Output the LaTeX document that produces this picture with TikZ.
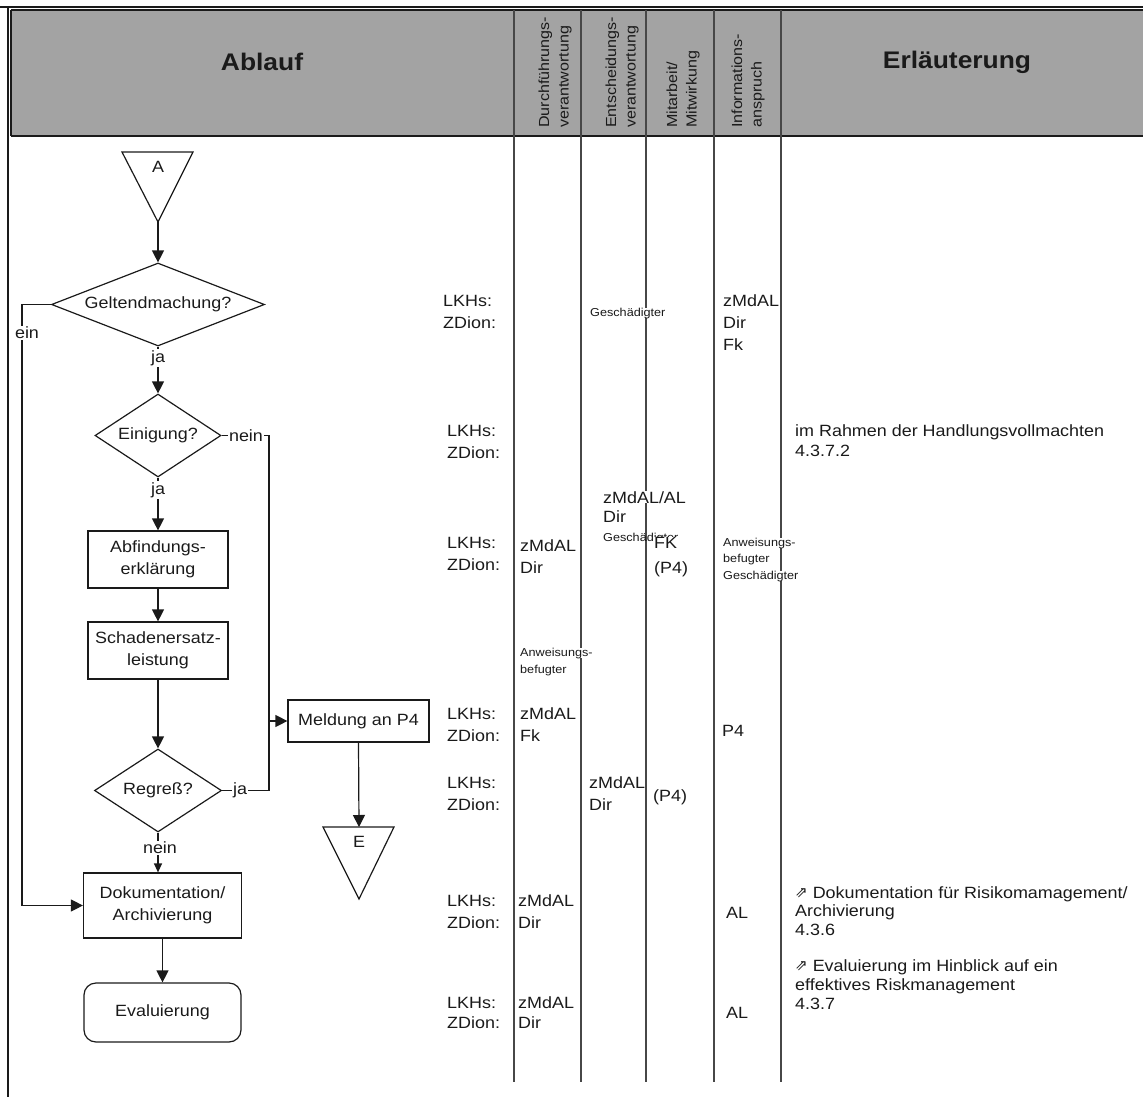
\documentclass[tikz,border=0pt]{standalone}
\usepackage{fontspec}
\setmainfont{Liberation Sans}[FakeStretch=1.1]
\newfontfamily\symfont{DejaVu Sans}
\usetikzlibrary{shapes.geometric,arrows.meta}
\definecolor{hdr}{HTML}{A3A3A3}
\definecolor{ink}{HTML}{1A1A1A}
\newcommand{\fsn}{\fontsize{16.3}{22}\selectfont}
\newcommand{\fss}{\fontsize{11.5}{16.5}\selectfont}
\newcommand{\fsh}{\fontsize{24}{28}\selectfont\bfseries}
\newcommand{\fsv}{\fontsize{14.6}{19.5}\selectfont}
\newcommand{\fse}{\fontsize{16.3}{18.5}\selectfont}
\newcommand{\arrsym}{\raisebox{1pt}{\symfont\fontsize{15}{15}\selectfont ⇗}}
\begin{document}
\begin{tikzpicture}[x=1pt,y=-1pt,
  fl/.style={line width=1.2pt, draw=ink},
  arr/.style={fl, -{Triangle[length=12pt,width=12pt]}},
  arrs/.style={fl, -{Triangle[length=9pt,width=8pt]}},
  dia/.style={diamond, fl, font=\fsn, inner sep=1pt, text=ink},
  box/.style={rectangle, fl, font=\fsn, align=center, inner sep=2pt, text=ink},
  lbl/.style={fill=white, inner sep=1pt, font=\fsn, text=ink},
  txt/.style={inner sep=0pt, anchor=base west, align=left, font=\fsn, text=ink},
  sm/.style={txt, font=\fss},
  wh/.style={fill=white},
  col/.style={line width=1.3pt, draw=black!72},
  vt/.style={rotate=90, anchor=west, align=left, font=\fsv, inner sep=0pt, text=ink},
  hd/.style={font=\fsh, text=ink, inner sep=0pt},
  erl/.style={txt, font=\fse}]
\useasboundingbox (0,0) rectangle (1143,1097);

% ---------- header ----------
\fill[hdr] (11,10) rectangle (1143,136);
\draw[line width=1.5pt, draw=ink] (11,136) -- (1143,136);
\draw[line width=1.2pt, draw=ink] (11,10) -- (1143,10);
\draw[line width=1.2pt, draw=ink] (11,10) -- (11,136);
\draw[line width=1.2pt, draw=ink] (0,7) -- (1143,7);
\draw[line width=1.5pt, draw=ink] (8,7) -- (8,1097);
\foreach \x in {514,581,646,714,781} \draw[col] (\x,10) -- (\x,1082);

\node[hd] (hAblauf) at (262,62) {Ablauf};
\node[hd] (hErl) at (957,62) {Erläuterung};
\node[vt] (hD) at (555,128) {Durchführungs-\\verantwortung};
\node[vt] (hE) at (622,128) {Entscheidungs-\\verantwortung};
\node[vt] (hM) at (683,128) {Mitarbeit/\\Mitwirkung};
\node[vt] (hI) at (748,128) {Informations-\\anspruch};

% ---------- flowchart ----------
\draw[fl] (122,152) -- (193,152) -- (158,222) -- cycle;
\coordinate (Aap) at (158,222);
\node[font=\fsn, text=ink, inner sep=0pt] (tA) at (158,167) {A};

\node[dia, aspect=2.57, minimum width=213pt, minimum height=83pt] (geld) at (158,304.5) {Geltendmachung?};
\node[dia, aspect=1.52, minimum width=126pt, minimum height=83pt] (einig) at (158,435.5) {Einigung?};
\node[box, minimum width=140pt, minimum height=57pt] (abf) at (158,559.5) {Abfindungs-\\erklärung};
\node[box, minimum width=140pt, minimum height=57pt] (schad) at (158,650.5) {Schadenersatz-\\leistung};
\node[dia, aspect=1.53, minimum width=127pt, minimum height=83pt] (regress) at (158,790.5) {Regreß?};
\node[box, minimum width=141pt, minimum height=42pt] (meld) at (358.5,721) {Meldung an P4};
\node[box, minimum width=158pt, minimum height=65pt] (doku) at (162.5,905.5) {Dokumentation/\\Archivierung};
\node[box, rounded corners=12pt, minimum width=157pt, minimum height=59pt] (eval) at (162.5,1012.5) {Evaluierung};

\draw[fl] (323,827) -- (394,827) -- (359,899) -- cycle;
\coordinate (Etop) at (359,827);
\node[font=\fsn, text=ink, inner sep=0pt] (tE) at (359,842) {E};

\coordinate (c1) at (22,304.5);
\coordinate (c2) at (22,905.5);
\coordinate (n1) at (269,435.5);
\coordinate (n2) at (269,721);
\coordinate (r1) at (269,790.5);

\draw[arr] (Aap) -- (geld.north);
\draw[arr] (geld.south) -- (einig.north);
\draw[arr] (einig.south) -- (abf.north);
\draw[arr] (abf.south) -- (schad.north);
\draw[arr] (schad.south) -- (regress.north);
\draw[arrs] (regress.south) -- (regress.south |- doku.north);
\draw[arr] (doku.south) -- (eval.north);
\draw[arr] (geld.west) -- (c1) -- (c2) -- (doku.west);
\draw[arr] (einig.east) -- (n1) -- (n2) -- (meld.west);
\draw[fl] (regress.east) -- (r1) -- (n2);
\draw[arr] (meld.south) -- (Etop);

\node[lbl] (lja1) at (158,358) {ja};
\node[lbl] (lja2) at (158,490) {ja};
\node[lbl] (lein) at (27,333) {ein};
\node[lbl] (lnein1) at (246,435.5) {nein};
\node[lbl] (lja3) at (240,790.5) {ja};
\node[lbl] (lnein2) at (160,848) {nein};

% ---------- responsibilities (base = last line) ----------
% row 1
\node[txt] (r1l) at (443,328) {LKHs:\\ZDion:};
\node[sm,wh] (r1e) at (590,316) {Geschädigter};
\node[txt] (r1i) at (723,350) {zMdAL\\Dir\\Fk};
% row 2
\node[txt] (r2l) at (447,458) {LKHs:\\ZDion:};
\node[erl] (r2x) at (795,456) {im Rahmen der Handlungsvollmachten\\[1.5pt]4.3.7.2};
% row 3
\node[txt] (r3l) at (447,570) {LKHs:\\ZDion:};
\node[txt] (r3d) at (520,573) {zMdAL\\Dir};
\node[txt,wh] (r3e1) at (603,503) {zMdAL/AL};
\node[txt] (r3e2) at (603,522) {Dir};
\node[sm] (r3g) at (603,541) {Geschädigter};
\node[txt,wh] (r3f) at (654,548) {FK};
\node[txt] (r3p) at (654,573) {(P4)};
\node[sm,wh] (r3i1) at (723,546) {Anweisungs-};
\node[sm] (r3i2) at (723,562.5) {befugter};
\node[sm,wh] (r3i3) at (723,579) {Geschädigter};
% row 4
\node[sm,wh] (r4a) at (520,656) {Anweisungs-};
\node[sm] (r4b) at (520,673) {befugter};
% row 5
\node[txt] (r5l) at (447,741) {LKHs:\\ZDion:};
\node[txt] (r5d) at (520,741) {zMdAL\\Fk};
\node[txt] (r5i) at (722,736) {P4};
% row 6
\node[txt] (r6l) at (447,810) {LKHs:\\ZDion:};
\node[txt,wh] (r6e1) at (589,788) {zMdAL};
\node[txt] (r6e2) at (589,810) {Dir};
\node[txt] (r6m) at (653,801) {(P4)};
% row 7
\node[txt] (r7l) at (447,928) {LKHs:\\ZDion:};
\node[txt] (r7d) at (518,928) {zMdAL\\Dir};
\node[txt] (r7i) at (726,918) {AL};
\node[erl] (r7x) at (795,935) {\arrsym\ Dokumentation für Risikomamagement/\\Archivierung\\4.3.6};
% row 8
\node[txt] (r8l) at (447,1028) {LKHs:\\[-2pt]ZDion:};
\node[txt] (r8d) at (518,1028) {zMdAL\\[-2pt]Dir};
\node[txt] (r8i) at (726,1018) {AL};
\node[erl] (r8x) at (795,1009) {\arrsym\ Evaluierung im Hinblick auf ein\\[0.5pt]effektives Riskmanagement\\4.3.7};
\end{tikzpicture}
\end{document}
